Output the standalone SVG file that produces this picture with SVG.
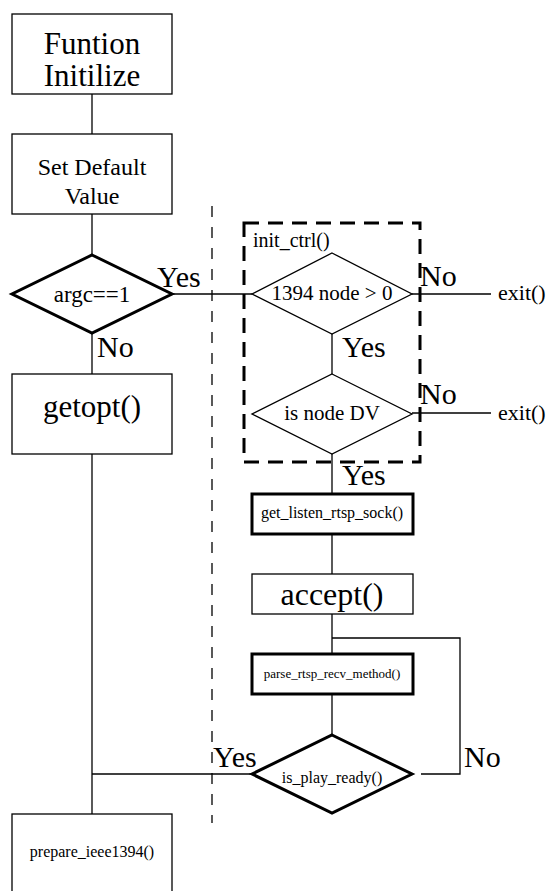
<svg xmlns="http://www.w3.org/2000/svg" width="547" height="891" viewBox="0 0 547 891">
<style>
text{font-family:'Liberation Serif','Times New Roman',serif;fill:#000}
.c{text-anchor:middle}
.n{fill:#fff;stroke:#000;stroke-width:1.3}
.t{fill:#fff;stroke:#000;stroke-width:3}
.e{stroke:#000;stroke-width:1.3;fill:none}
</style>
<rect width="547" height="891" fill="#fff"/>
<g id="connectors">
<line class="e" x1="92" y1="94" x2="92" y2="134"/>
<line class="e" x1="92" y1="214" x2="92" y2="255"/>
<line class="e" x1="92" y1="333" x2="92" y2="374"/>
<line class="e" x1="92" y1="454" x2="92" y2="814"/>
<line class="e" x1="172" y1="294" x2="252" y2="294"/>
<line class="e" x1="412" y1="294" x2="491" y2="294"/>
<line class="e" x1="412" y1="413" x2="491" y2="413"/>
<line class="e" x1="332" y1="334" x2="332" y2="374"/>
<line class="e" x1="332" y1="454" x2="332" y2="494"/>
<line class="e" x1="332" y1="534" x2="332" y2="574"/>
<line class="e" x1="332" y1="614" x2="332" y2="654"/>
<line class="e" x1="332" y1="694" x2="332" y2="735"/>
<polyline class="e" points="332,638 460,638 460,774 421,774"/>
<line class="e" x1="92" y1="774" x2="252" y2="774"/>
<line x1="212" y1="206" x2="212" y2="823" stroke="#000" stroke-width="1.3" stroke-dasharray="11,10"/>
</g>
<g id="init_ctrl">
<rect x="244" y="223" width="176" height="239" fill="none" stroke="#000" stroke-width="3" stroke-dasharray="15,9"/>
<text x="253" y="247" font-size="20">init_ctrl()</text>
</g>
<g id="funtion_initilize">
<rect class="n" x="12" y="14" width="160" height="80"/>
<text class="c" x="92" y="54" font-size="31">Funtion</text>
<text class="c" x="92" y="86" font-size="31">Initilize</text>
</g>
<g id="set_default">
<rect class="n" x="12" y="134" width="160" height="80"/>
<text class="c" x="92" y="175" font-size="24">Set Default</text>
<text class="c" x="92" y="204" font-size="24">Value</text>
</g>
<g id="argc">
<polygon class="t" points="92,255 172,294 92,333 12,294"/>
<text class="c" x="92" y="302" font-size="23">argc==1</text>
</g>
<g id="getopt">
<rect class="n" x="12" y="374" width="160" height="80"/>
<text class="c" x="92" y="417" font-size="31">getopt()</text>
</g>
<g id="prepare">
<rect class="n" x="12" y="814" width="160" height="90"/>
<text class="c" x="92" y="857" font-size="16">prepare_ieee1394()</text>
</g>
<g id="node_count">
<polygon class="n" points="332,253 412,294 332,334 252,294"/>
<text class="c" x="332" y="300" font-size="21">1394 node &gt; 0</text>
</g>
<g id="node_dv">
<polygon class="n" points="332,374 412,414 332,454 252,414"/>
<text class="c" x="332" y="420" font-size="21">is node DV</text>
</g>
<g id="get_listen">
<rect class="t" x="252" y="494" width="161" height="40"/>
<text class="c" x="332" y="518" font-size="16">get_listen_rtsp_sock()</text>
</g>
<g id="accept">
<rect class="n" x="252" y="574" width="161" height="40"/>
<text class="c" x="332" y="605" font-size="32">accept()</text>
</g>
<g id="parse">
<rect class="t" x="252" y="654" width="161" height="40"/>
<text class="c" x="332" y="678" font-size="13">parse_rtsp_recv_method()</text>
</g>
<g id="play_ready">
<polygon class="t" points="332,735 412,774 332,813 252,774"/>
<text class="c" x="332" y="783" font-size="16">is_play_ready()</text>
</g>
<g id="labels">
<text x="157" y="287" font-size="30">Yes</text>
<text x="97" y="357" font-size="30">No</text>
<text x="420" y="286" font-size="30">No</text>
<text x="342" y="357" font-size="30">Yes</text>
<text x="420" y="404" font-size="30">No</text>
<text x="342" y="485" font-size="30">Yes</text>
<text x="213" y="767" font-size="30">Yes</text>
<text x="464" y="767" font-size="30">No</text>
<text x="498" y="300" font-size="22">exit()</text>
<text x="498" y="420" font-size="22">exit()</text>
</g>
</svg>
